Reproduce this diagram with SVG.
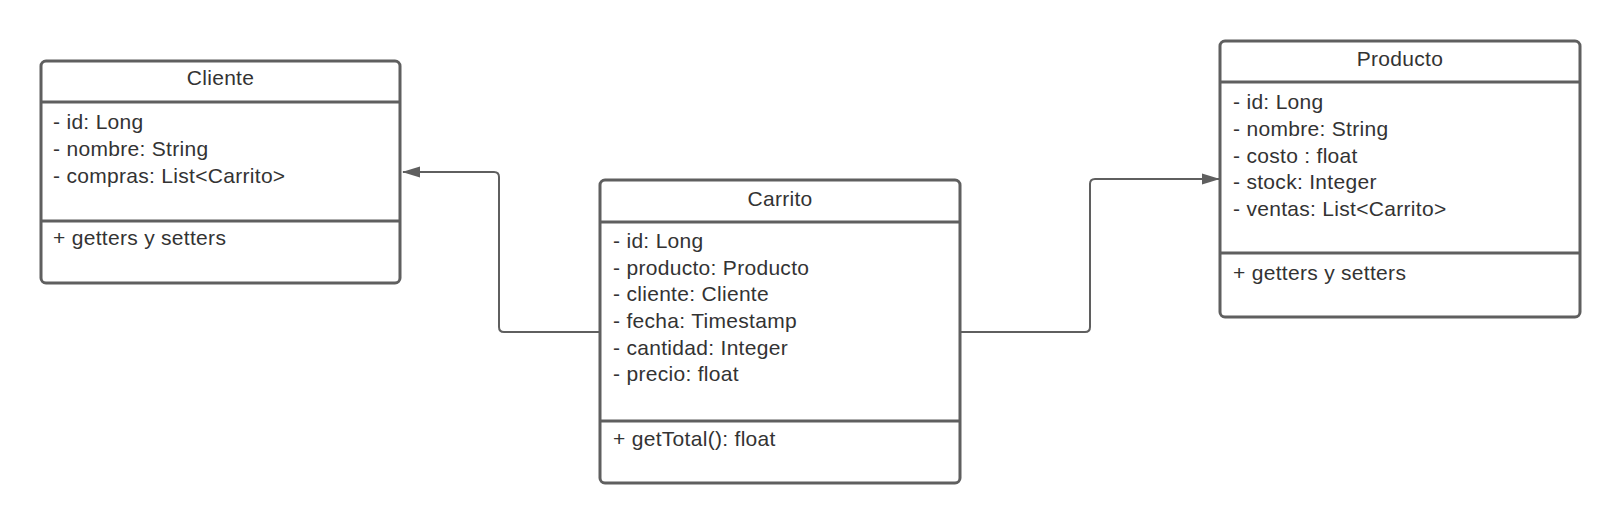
<svg xmlns="http://www.w3.org/2000/svg" width="1620" height="524" viewBox="0 0 1620 524">
<style>
.box{fill:#fff;stroke:#5f5f5f;stroke-width:3}
.sep{stroke:#5f5f5f;stroke-width:3}
.t{font-family:"Liberation Sans",Arial,sans-serif;font-size:21px;letter-spacing:0.3px;fill:#333}
.c{text-anchor:middle}
.edge{fill:none;stroke:#5f5f5f;stroke-width:2}
</style>
<defs>
<marker id="arr" viewBox="0 0 18 12" refX="17" refY="6" markerWidth="18" markerHeight="12" markerUnits="userSpaceOnUse" orient="auto">
<path d="M0,0.5 L18,6 L0,11.5 Z" fill="#5f5f5f"/>
</marker>
</defs>
<rect width="1620" height="524" fill="#fff"/>
<g id="connectors">
<path class="edge" d="M599,332 L504,332 Q499,332 499,327 L499,177 Q499,172 494,172 L403,172" marker-end="url(#arr)"/>
<path class="edge" d="M961,332 L1085,332 Q1090,332 1090,327 L1090,184 Q1090,179 1095,179 L1219,179" marker-end="url(#arr)"/>
</g>
<g id="cliente">
<rect class="box" x="41" y="61" width="359" height="222" rx="5"/>
<line class="sep" x1="41" y1="102" x2="400" y2="102"/>
<line class="sep" x1="41" y1="221" x2="400" y2="221"/>
<text class="t c" x="220.5" y="85">Cliente</text>
<text class="t" x="53" y="129">- id: Long</text>
<text class="t" x="53" y="156">- nombre: String</text>
<text class="t" x="53" y="183">- compras: List&lt;Carrito&gt;</text>
<text class="t" x="53" y="245">+ getters y setters</text>
</g>
<g id="carrito">
<rect class="box" x="600" y="180" width="360" height="303" rx="5"/>
<line class="sep" x1="600" y1="222" x2="960" y2="222"/>
<line class="sep" x1="600" y1="421" x2="960" y2="421"/>
<text class="t c" x="780" y="206">Carrito</text>
<text class="t" x="613" y="248">- id: Long</text>
<text class="t" x="613" y="275">- producto: Producto</text>
<text class="t" x="613" y="301">- cliente: Cliente</text>
<text class="t" x="613" y="328">- fecha: Timestamp</text>
<text class="t" x="613" y="355">- cantidad: Integer</text>
<text class="t" x="613" y="381">- precio: float</text>
<text class="t" x="613" y="446">+ getTotal(): float</text>
</g>
<g id="producto">
<rect class="box" x="1220" y="41" width="360" height="276" rx="5"/>
<line class="sep" x1="1220" y1="82" x2="1580" y2="82"/>
<line class="sep" x1="1220" y1="253" x2="1580" y2="253"/>
<text class="t c" x="1400" y="66">Producto</text>
<text class="t" x="1233" y="109">- id: Long</text>
<text class="t" x="1233" y="136">- nombre: String</text>
<text class="t" x="1233" y="163">- costo : float</text>
<text class="t" x="1233" y="189">- stock: Integer</text>
<text class="t" x="1233" y="216">- ventas: List&lt;Carrito&gt;</text>
<text class="t" x="1233" y="280">+ getters y setters</text>
</g>
</svg>
